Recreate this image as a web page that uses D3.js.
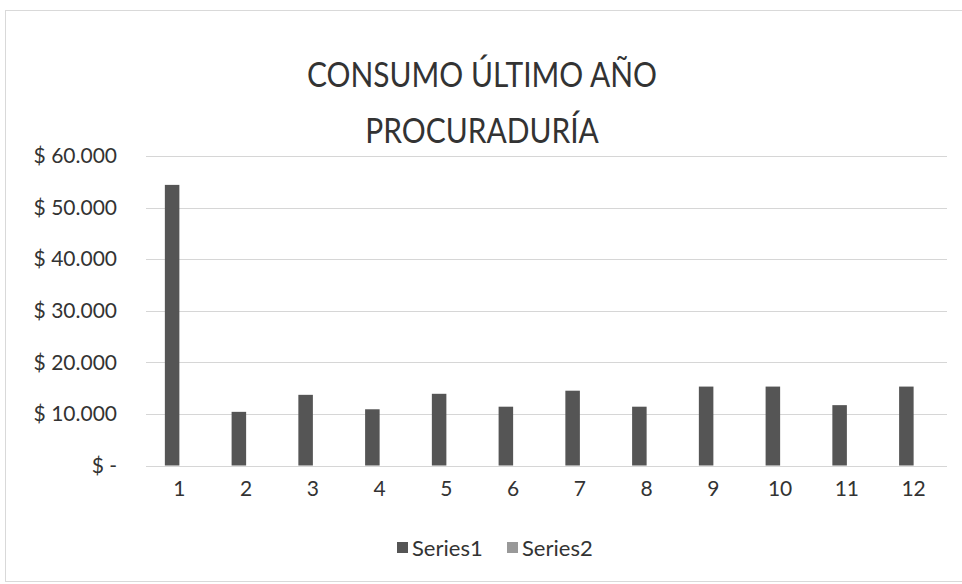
<!DOCTYPE html>
<html>
<head>
<meta charset="utf-8">
<script src="https://cdn.jsdelivr.net/npm/d3@7"></script>
<style>
  body { margin: 0; background: #fff; }
  text { font-family: Lato, "Open Sans", sans-serif; fill: #333; }
  .grid line { stroke: #d6d6d6; stroke-width: 1; }
</style>
</head>
<body>
<div id="chart"></div>
<script>
// consumo ultimo año - procuraduria (bar chart, Series2 is empty)
var categories = ["1","2","3","4","5","6","7","8","9","10","11","12"];
var series1 = [54400, 10400, 13700, 10900, 13900, 11400, 14500, 11400, 15300, 15300, 11700, 15300];
var series2 = [0, 0, 0, 0, 0, 0, 0, 0, 0, 0, 0, 0];
var seriesNames = ["Series1", "Series2"];
var seriesColors = ["#555555", "#999999"];
var yTicks = [0, 10000, 20000, 30000, 40000, 50000, 60000];
var titleLines = ["CONSUMO ÚLTIMO AÑO", "PROCURADURÍA"];

var width = 962, height = 584;
var svg = d3.select("#chart").append("svg")
  .attr("width", width).attr("height", height);

// chart frame
svg.append("rect")
  .attr("x", 5.5).attr("y", 10.5)
  .attr("width", 970).attr("height", 571)
  .attr("fill", "#fff").attr("stroke", "#d9d9d9");

var locale = d3.formatLocale({decimal: ",", thousands: ".", grouping: [3], currency: ["$ ", ""]});
var fmt = locale.format(",.0f");
function money(v) { return v === 0 ? "$ -" : "$ " + fmt(v); }

var x = d3.scaleBand().domain(categories).range([146, 947]).paddingInner(0.565).paddingOuter(0.2825);
var x1 = d3.scaleBand().domain(seriesNames).range([0, x.bandwidth()]);
var y = d3.scaleLinear().domain([0, 60000]).range([465.5, 156]);

// title (squeezed a bit, the original font is narrower)
svg.append("g").attr("transform", "translate(482,0) scale(0.88,1)")
  .selectAll("text")
  .data(titleLines)
  .enter().append("text")
  .attr("x", 0)
  .attr("y", function(d, i){ return 87 + i * 56; })
  .attr("text-anchor", "middle")
  .style("font-size", "34px")
  .text(function(d){ return d; });

// gridlines
svg.append("g").attr("class", "grid").selectAll("line")
  .data(yTicks)
  .enter().append("line")
  .attr("x1", 146).attr("x2", 947)
  .attr("y1", function(d){ return Math.round(y(d)) + 0.5; })
  .attr("y2", function(d){ return Math.round(y(d)) + 0.5; });

// y axis labels
var yAxis = d3.axisLeft(y).tickValues(yTicks).tickFormat(money).tickSize(0).tickPadding(29);
var gy = svg.append("g").attr("transform", "translate(146,0)").call(yAxis);
gy.select(".domain").remove();
gy.selectAll("text").style("font-size", "21px").style("fill", "#333");

// x axis labels
var xAxis = d3.axisBottom(x).tickSize(0).tickPadding(16);
var gx = svg.append("g").attr("transform", "translate(0," + y(0) + ")").call(xAxis);
gx.select(".domain").remove();
gx.selectAll("text").style("font-size", "21px").style("fill", "#333");

// bars
var rows = categories.map(function(c, i){ return {cat: c, vals: [series1[i], series2[i]]}; });
var groups = svg.append("g").selectAll("g")
  .data(rows)
  .enter().append("g")
  .attr("transform", function(d){ return "translate(" + x(d.cat) + ",0)"; });

groups.selectAll("rect")
  .data(function(d){ return d.vals.map(function(v, j){ return {name: seriesNames[j], v: v, c: seriesColors[j]}; }); })
  .enter().append("rect")
  .attr("x", function(d){ return x1(d.name); })
  .attr("width", x1.bandwidth())
  .attr("y", function(d){ return y(d.v); })
  .attr("height", function(d){ return y(0) - y(d.v); })
  .attr("fill", function(d){ return d.c; });

// legend
var legend = svg.append("g").selectAll("g")
  .data(seriesNames)
  .enter().append("g")
  .attr("transform", function(d, i){ return "translate(" + (397 + i * 110) + ",548)"; });
legend.append("rect")
  .attr("x", 0).attr("y", -6).attr("width", 11).attr("height", 11)
  .attr("fill", function(d, i){ return seriesColors[i]; });
legend.append("text")
  .attr("x", 15).attr("y", 0).attr("dy", "0.35em")
  .style("font-size", "22px")
  .text(function(d){ return d; });
</script>
</body>
</html>
